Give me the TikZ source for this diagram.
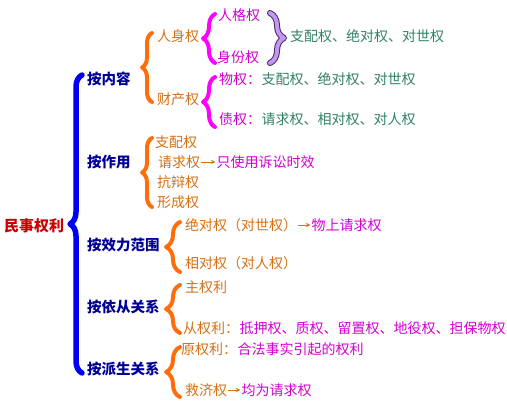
\documentclass[tikz,border=0pt]{standalone}
\usepackage{fontspec}
\setmainfont{Noto Sans CJK SC}
\usetikzlibrary{positioning,decorations.pathreplacing}
\definecolor{qred}{RGB}{204,0,0}
\definecolor{qnavy}{RGB}{0,0,150}
\definecolor{qblue}{RGB}{0,0,240}
\definecolor{qorange}{RGB}{255,110,10}
\definecolor{qbrown}{RGB}{214,112,20}
\definecolor{qmag}{RGB}{210,0,210}
\definecolor{qpink}{RGB}{255,0,255}
\definecolor{qgreen}{RGB}{50,130,100}
\definecolor{qlilac}{RGB}{195,150,240}
\definecolor{qplum}{RGB}{70,40,100}
\tikzset{
  every node/.style={inner sep=0pt,anchor=west,font=\fontsize{14}{16}\selectfont},
  rootlbl/.style={text=qred,font=\fontsize{15}{17}\selectfont\bfseries},
  catlbl/.style={text=qnavy,font=\fontsize{14.5}{16}\selectfont\bfseries},
  sublbl/.style={text=qbrown},
  pinklbl/.style={text=qmag},
  greenlbl/.style={text=qgreen},
  brc/.style={decorate,decoration={brace,amplitude=#1},line cap=round,line join=round},
  tiparrow/.style={qbrown,line width=1pt,-stealth,shorten <=1pt,shorten >=1pt}
}
\begin{document}
\begin{tikzpicture}[x=1pt,y=-1pt]
%  \draw[help lines] (0,0) grid (507,402);
  \useasboundingbox[fill=white] (0,0) rectangle (507,402);
    \path (4,226) node(root) [rootlbl] {民事权利}
    (87,79) node(bynr) [catlbl] {按内容}
    (87,162) node(byzy) [catlbl] {按作用}
    (87,245) node(byxl) [catlbl] {按效力范围}
    (87,307) node(byyc) [catlbl] {按依从关系}
    (87,369) node(byps) [catlbl] {按派生关系};
    %按内容
    \path (157,36) node(rsq) [sublbl] {人身权}
    (157,99) node(ccq) [sublbl] {财产权}
    (218,15) node(rgq) [pinklbl] {人格权}
    (217,57) node(sfq) [pinklbl] {身份权}
    (290,36) node(rsdesc) [greenlbl] {支配权、绝对权、对世权}
    (219,79) node(wq) [pinklbl] {物权：}
    (219,119) node(zq) [pinklbl] {债权：};
    \node(wqdesc) [greenlbl,right=0pt of wq] {支配权、绝对权、对世权};
    \node(zqdesc) [greenlbl,right=0pt of zq] {请求权、相对权、对人权};
    % 按作用
    \path (155,142) node(zpq) [sublbl] {支配权}
    (158,162) node(qqq) [sublbl] {请求权}
    (157,182) node(kbq) [sublbl] {抗辩权}
    (157,202) node(xcq) [sublbl] {形成权};
    \node(sxdesc) [pinklbl,right=16pt of qqq] {只使用诉讼时效};
    \draw[tiparrow] (qqq) -- (sxdesc);
    % 按效力范围
    \path (185,225) node(jdq) [sublbl] {绝对权（对世权）}
    (185,263) node(xdq) [sublbl] {相对权（对人权）};
    \node(wsq) [pinklbl,right=14pt of jdq] {物上请求权};
    \draw[tiparrow] (jdq) -- (wsq);
    % 按依从关系
    \path (185,287) node(zql) [sublbl] {主权利}
    (183,328) node(cql) [sublbl] {从权利：};
    \node(cqdesc) [pinklbl,right=0pt of cql] {抵押权、质权、留置权、地役权、担保物权};
    % 按派生关系
    \path (181,349) node(yql) [sublbl] {原权利：}
    (185,390) node(jjq) [sublbl] {救济权};
    \node(yqdesc) [pinklbl,right=0pt of yql] {合法事实引起的权利};
    \node(jwq) [pinklbl,right=14pt of jjq] {均为请求权};
    \draw[tiparrow] (jjq) -- (jwq);
    % braces
    \draw[brc=12pt,qblue,line width=5.5pt] (82,373) -- (82,75);
    \draw[brc=10pt,qorange,line width=4pt] (152,102) -- (152,33);
    \draw[brc=10pt,qorange,line width=4pt] (152,207) -- (152,138);
    \draw[brc=14pt,qorange,line width=4pt] (180,272) -- (180,222);
    \draw[brc=14pt,qorange,line width=4pt] (180,333) -- (180,285);
    \draw[brc=14pt,qorange,line width=4pt] (180,397) -- (180,347);
    \draw[brc=12pt,qpink,line width=4pt] (215,63) -- (215,14);
    \draw[brc=12pt,qpink,line width=4pt] (215,127) -- (215,77);
    \draw[brc=14pt,qplum,line width=6pt] (270,13) -- (270,63);
    \draw[brc=14pt,qlilac,line width=4pt] (270,13) -- (270,63);
  \end{tikzpicture}
\end{document}
